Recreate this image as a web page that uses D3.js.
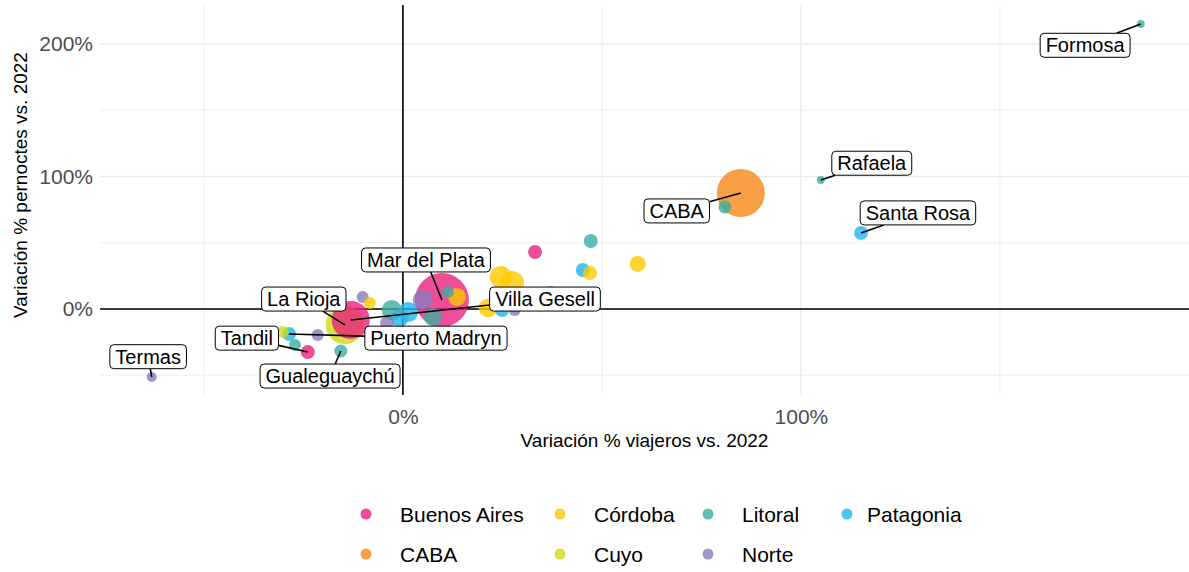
<!DOCTYPE html>
<html><head><meta charset="utf-8">
<script src="https://cdn.jsdelivr.net/npm/d3@7"></script>
<style>body{margin:0;background:#fff}svg{display:block}</style>
</head><body>
<svg id="c" width="1189" height="572"></svg>
<script>
// ---- data ----
const regions = ["Buenos Aires","Córdoba","Litoral","Patagonia","CABA","Cuyo","Norte"];
const regionColors = ["#EA227D","#FCC900","#3CACA0","#23B4EB","#F68814","#CEDB18","#8A7ABC"];

const destinos = ["Formosa","Rafaela","Santa Rosa","CABA","d5","d6","d7","d8","d9","d10",
  "d11","d12","d13","d14","d15","d16","Mar del Plata","d18","d19","d20",
  "d21","d22","d23","d24","d25","d26","d27","Villa Gesell","La Rioja","Puerto Madryn",
  "d31","d32","d33","Tandil","Gualeguaychú","Termas"];
const destinoRegion = ["Litoral","Litoral","Patagonia","CABA","Litoral","Córdoba","Litoral","Buenos Aires","Patagonia","Córdoba",
  "Litoral","Córdoba","Córdoba","Córdoba","Patagonia","Norte","Buenos Aires","Litoral","Córdoba","Norte",
  "Litoral","Patagonia","Litoral","Patagonia","Norte","Norte","Córdoba","Buenos Aires","Cuyo","Patagonia",
  "Cuyo","Litoral","Norte","Buenos Aires","Litoral","Norte"];
const varViajeros = [185.4,105.0,115.1,84.9,80.9,59.0,47.2,33.2,45.2,47.0,
  37.2,24.6,27.4,21.4,24.9,28.1,9.8,11.3,13.6,5.0,
  7.5,1.3,-2.8,-0.8,-4.0,-10.1,-8.3,-13.1,-14.6,-28.6,
  -30.2,-27.1,-21.4,-23.9,-15.6,-63.1];
const varPernoctes = [215.1,97.4,57.4,87.5,77.0,34.0,51.3,43.0,29.4,27.2,
  12.8,24.2,19.6,0.8,-0.8,-0.8,6.8,12.8,9.1,6.8,
  -6.0,-2.3,-0.8,-6.8,-10.6,9.1,4.5,-8.3,-12.0,-18.9,
  -17.4,-27.2,-19.6,-32.5,-31.7,-51.3];
const volumen = [20,20,62,735,54,82,62,62,62,62,
  46,154,184,110,62,46,930,46,103,128,
  103,128,128,103,62,46,46,460,470,62,
  46,46,46,62,54,32];

const labelNames = ["Formosa","Rafaela","Santa Rosa","CABA","Mar del Plata","Villa Gesell","La Rioja","Puerto Madryn","Tandil","Gualeguaychú","Termas"];
const labelX = [171.4,117.8,129.4,68.8,5.8,35.7,-24.9,8.3,-39.2,-18.3,-64.0];
const labelY = [199.0,110.0,72.5,74.0,37.0,7.5,7.5,-22.0,-22.0,-50.6,-36.0];

const xMajor = [0,100];
const xMinor = [-50,50,150];
const yMajor = [0,100,200];
const yMinor = [-50,50,150];

// ---- chart ----
const P = {l:100, r:1189, t:5, b:395};
const svg = d3.select("#c");
const font = "'Liberation Sans', Arial, Helvetica, sans-serif";

const x = d3.scaleLinear().domain([-76.1,197.5]).range([P.l,P.r]);
const y = d3.scaleLinear().domain([-64.9,229.4]).range([P.b,P.t]);
const rScale = d3.scaleSqrt().domain([0,1000]).range([0,28]);
const color = d3.scaleOrdinal().domain(regions).range(regionColors);

const grid = svg.append("g");
grid.selectAll(".xmin").data(xMinor).join("line")
  .attr("x1",d=>x(d)).attr("x2",d=>x(d)).attr("y1",P.t).attr("y2",P.b)
  .attr("stroke","#ebebeb").attr("stroke-width",0.8);
grid.selectAll(".ymin").data(yMinor).join("line")
  .attr("y1",d=>y(d)).attr("y2",d=>y(d)).attr("x1",P.l).attr("x2",P.r)
  .attr("stroke","#ebebeb").attr("stroke-width",0.8);
grid.selectAll(".xmaj").data(xMajor).join("line")
  .attr("x1",d=>x(d)).attr("x2",d=>x(d)).attr("y1",P.t).attr("y2",P.b)
  .attr("stroke","#ebebeb").attr("stroke-width",1.4);
grid.selectAll(".ymaj").data(yMajor).join("line")
  .attr("y1",d=>y(d)).attr("y2",d=>y(d)).attr("x1",P.l).attr("x2",P.r)
  .attr("stroke","#ebebeb").attr("stroke-width",1.4);

// reference lines at 0
svg.append("line").attr("x1",P.l).attr("x2",P.r).attr("y1",y(0)).attr("y2",y(0))
  .attr("stroke","#000").attr("stroke-width",1.6);
svg.append("line").attr("x1",x(0)).attr("x2",x(0)).attr("y1",P.t).attr("y2",P.b)
  .attr("stroke","#000").attr("stroke-width",1.6);

// axes
const fmt = d=>d+"%";
const xAxis = svg.append("g").attr("transform",`translate(0,${P.b})`)
  .call(d3.axisBottom(x).tickValues(xMajor).tickFormat(fmt).tickSize(0).tickPadding(14));
const yAxis = svg.append("g").attr("transform",`translate(${P.l},0)`)
  .call(d3.axisLeft(y).tickValues(yMajor).tickFormat(fmt).tickSize(0).tickPadding(7));
[xAxis,yAxis].forEach(a=>{
  a.select(".domain").remove();
  a.selectAll("text").attr("font-family",font).attr("font-size",21).attr("fill","#4d4d4d");
});

svg.append("text").attr("x",(P.l+P.r)/2).attr("y",447).attr("text-anchor","middle")
  .attr("font-family",font).attr("font-size",19).attr("fill","#000")
  .text("Variación % viajeros vs. 2022");
svg.append("text").attr("transform","translate(27,185) rotate(-90)").attr("text-anchor","middle")
  .attr("font-family",font).attr("font-size",19).attr("fill","#000")
  .text("Variación % pernoctes vs. 2022");

// points
const pts = destinos.map((n,i)=>({n, reg:destinoRegion[i], vx:varViajeros[i], vy:varPernoctes[i], v:volumen[i]}));
const sorted = pts.slice().sort((a,b)=>b.v-a.v);
svg.append("g").selectAll("circle").data(sorted).join("circle")
  .attr("cx",d=>x(d.vx)).attr("cy",d=>y(d.vy)).attr("r",d=>rScale(d.v))
  .attr("fill",d=>color(d.reg)).attr("fill-opacity",0.8);

// labels
const FS = 20;
const lab = svg.append("g");
const meas = svg.append("text").attr("font-family",font).attr("font-size",FS).attr("visibility","hidden");
labelNames.forEach((name,i)=>{
  const p = pts.find(d=>d.n===name);
  meas.text(name);
  const tw = meas.node().getComputedTextLength();
  const bw = tw+11, bh = 24;
  const cx = x(labelX[i]), cy = y(labelY[i]);
  const px = x(p.vx), py = y(p.vy);
  const dx = px-cx, dy = py-cy;
  let t = Infinity;
  if (dx!==0) t = Math.min(t, (bw/2)/Math.abs(dx));
  if (dy!==0) t = Math.min(t, (bh/2)/Math.abs(dy));
  const sx = cx+dx*Math.min(t,1), sy = cy+dy*Math.min(t,1);
  lab.append("line").attr("x1",sx).attr("y1",sy).attr("x2",px).attr("y2",py)
    .attr("stroke","#000").attr("stroke-width",1.6);
  lab.append("rect").attr("x",cx-bw/2).attr("y",cy-bh/2).attr("width",bw).attr("height",bh)
    .attr("rx",4).attr("fill","#fff").attr("stroke","#000").attr("stroke-width",1);
  lab.append("text").attr("x",cx).attr("y",cy+7).attr("text-anchor","middle")
    .attr("font-family",font).attr("font-size",FS).attr("fill","#000").text(name);
});
meas.remove();

// legend
const legendRows = [["Buenos Aires","Córdoba","Litoral","Patagonia"],["CABA","Cuyo","Norte"]];
const legX = [366,560,708,847];
const legTextX = [400,594,742,867];
const legY = [514,554];
const lg = svg.append("g");
legendRows.forEach((row,ri)=>{
  row.forEach((r,ci)=>{
    lg.append("circle").attr("cx",legX[ci]).attr("cy",legY[ri]).attr("r",5.5)
      .attr("fill",color(r)).attr("fill-opacity",0.8);
    lg.append("text").attr("x",legTextX[ci]).attr("y",legY[ri]+7.5)
      .attr("font-family",font).attr("font-size",21).attr("fill","#000").text(r);
  });
});
</script>
</body></html>
